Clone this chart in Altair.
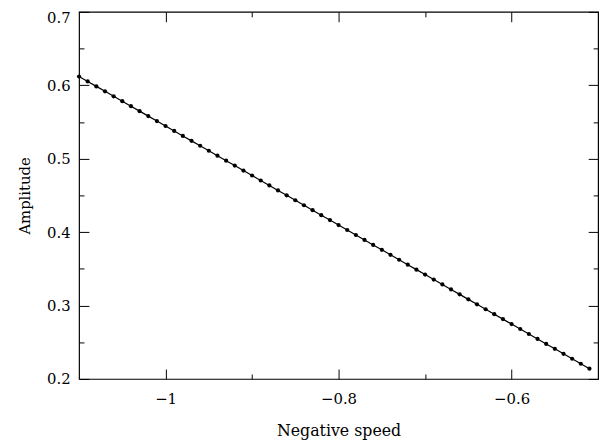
import altair as alt
import pandas as pd

# Data
speed = [-1.10, -1.09, -1.08, -1.07, -1.06, -1.05, -1.04, -1.03, -1.02, -1.01,
         -1.00, -0.99, -0.98, -0.97, -0.96, -0.95, -0.94, -0.93, -0.92, -0.91,
         -0.90, -0.89, -0.88, -0.87, -0.86, -0.85, -0.84, -0.83, -0.82, -0.81,
         -0.80, -0.79, -0.78, -0.77, -0.76, -0.75, -0.74, -0.73, -0.72, -0.71,
         -0.70, -0.69, -0.68, -0.67, -0.66, -0.65, -0.64, -0.63, -0.62, -0.61,
         -0.60, -0.59, -0.58, -0.57, -0.56, -0.55, -0.54, -0.53, -0.52, -0.51]
amplitude = [0.6120, 0.6053, 0.5985, 0.5918, 0.5850, 0.5783, 0.5715, 0.5648, 0.5580, 0.5513,
             0.5445, 0.5378, 0.5310, 0.5243, 0.5176, 0.5108, 0.5041, 0.4973, 0.4906, 0.4838,
             0.4771, 0.4703, 0.4636, 0.4568, 0.4501, 0.4434, 0.4366, 0.4299, 0.4231, 0.4164,
             0.4096, 0.4029, 0.3961, 0.3894, 0.3826, 0.3759, 0.3691, 0.3624, 0.3557, 0.3489,
             0.3422, 0.3354, 0.3287, 0.3219, 0.3152, 0.3084, 0.3017, 0.2949, 0.2882, 0.2815,
             0.2747, 0.2680, 0.2612, 0.2545, 0.2477, 0.2410, 0.2342, 0.2275, 0.2207, 0.2140]

x_major = [-1.0, -0.8, -0.6]
x_minor = [-0.9, -0.7]
y_major = [0.2, 0.3, 0.4, 0.5, 0.6, 0.7]
y_minor = [0.25, 0.35, 0.45, 0.55, 0.65]

df = pd.DataFrame({"speed": speed, "amplitude": amplitude})

FONT = "DejaVu Serif"
FS = 15
xscale = alt.Scale(domain=[-1.1, -0.5], nice=False, zero=False)
yscale = alt.Scale(domain=[0.2, 0.7], nice=False, zero=False)

base = alt.Chart(df)

label_x = alt.Axis(orient="bottom", values=x_major, ticks=False, domain=False, grid=False,
                   labelExpr="replace(format(datum.value, '.1~f'), '-', '\u2212')",
                   labelFont=FONT, labelFontSize=FS, labelColor="black", labelPadding=13,
                   title="Negative speed", titleFont=FONT, titleFontSize=16,
                   titleFontWeight="normal", titleColor="black", titlePadding=16)
label_y = alt.Axis(orient="left", values=y_major, ticks=False, domain=False, grid=False,
                   format=".1f", labelFont=FONT, labelFontSize=FS, labelColor="black",
                   labelPadding=9,
                   labelOffset={"condition": {"test": "datum.value > 0.69", "value": 6},
                                "value": 0},
                   title="Amplitude", titleFont=FONT, titleFontSize=FS,
                   titleFontWeight="normal", titleColor="black", titlePadding=14)

line = base.mark_line(color="black", strokeWidth=1.2).encode(
    x=alt.X("speed:Q", scale=xscale, axis=label_x),
    y=alt.Y("amplitude:Q", scale=yscale, axis=label_y),
)
pts = base.mark_circle(color="black", size=18, opacity=1).encode(
    x=alt.X("speed:Q", scale=xscale, axis=None),
    y=alt.Y("amplitude:Q", scale=yscale, axis=None),
)


def tick_axis(orient, values, size):
    return alt.Axis(orient=orient, values=values, labels=False, domain=False, grid=False,
                    ticks=True, tickSize={"expr": str(-size)}, tickColor="black",
                    tickWidth=1, title=None)


def tick_layer(xo, yo, xv, yv, size):
    return base.mark_point(opacity=0).encode(
        x=alt.X("speed:Q", scale=xscale, axis=tick_axis(xo, xv, size)),
        y=alt.Y("amplitude:Q", scale=yscale, axis=tick_axis(yo, yv, size)),
    )


layers = [
    line,
    pts,
    tick_layer("bottom", "left", x_major, y_major, 10),
    tick_layer("top", "right", x_major, y_major, 10),
    tick_layer("bottom", "left", x_minor, y_minor, 5),
    tick_layer("top", "right", x_minor, y_minor, 5),
]

chart = alt.layer(*layers).resolve_axis(x="independent", y="independent").properties(
    width=526, height=372,
    background="white",
    autosize=alt.AutoSizeParams(type="none"),
    padding={"left": 72, "top": 1, "right": 7, "bottom": 63},
).configure_view(stroke="black", strokeWidth=1.2)

chart.save("out.html", embed_options={"renderer": "svg", "actions": False})
